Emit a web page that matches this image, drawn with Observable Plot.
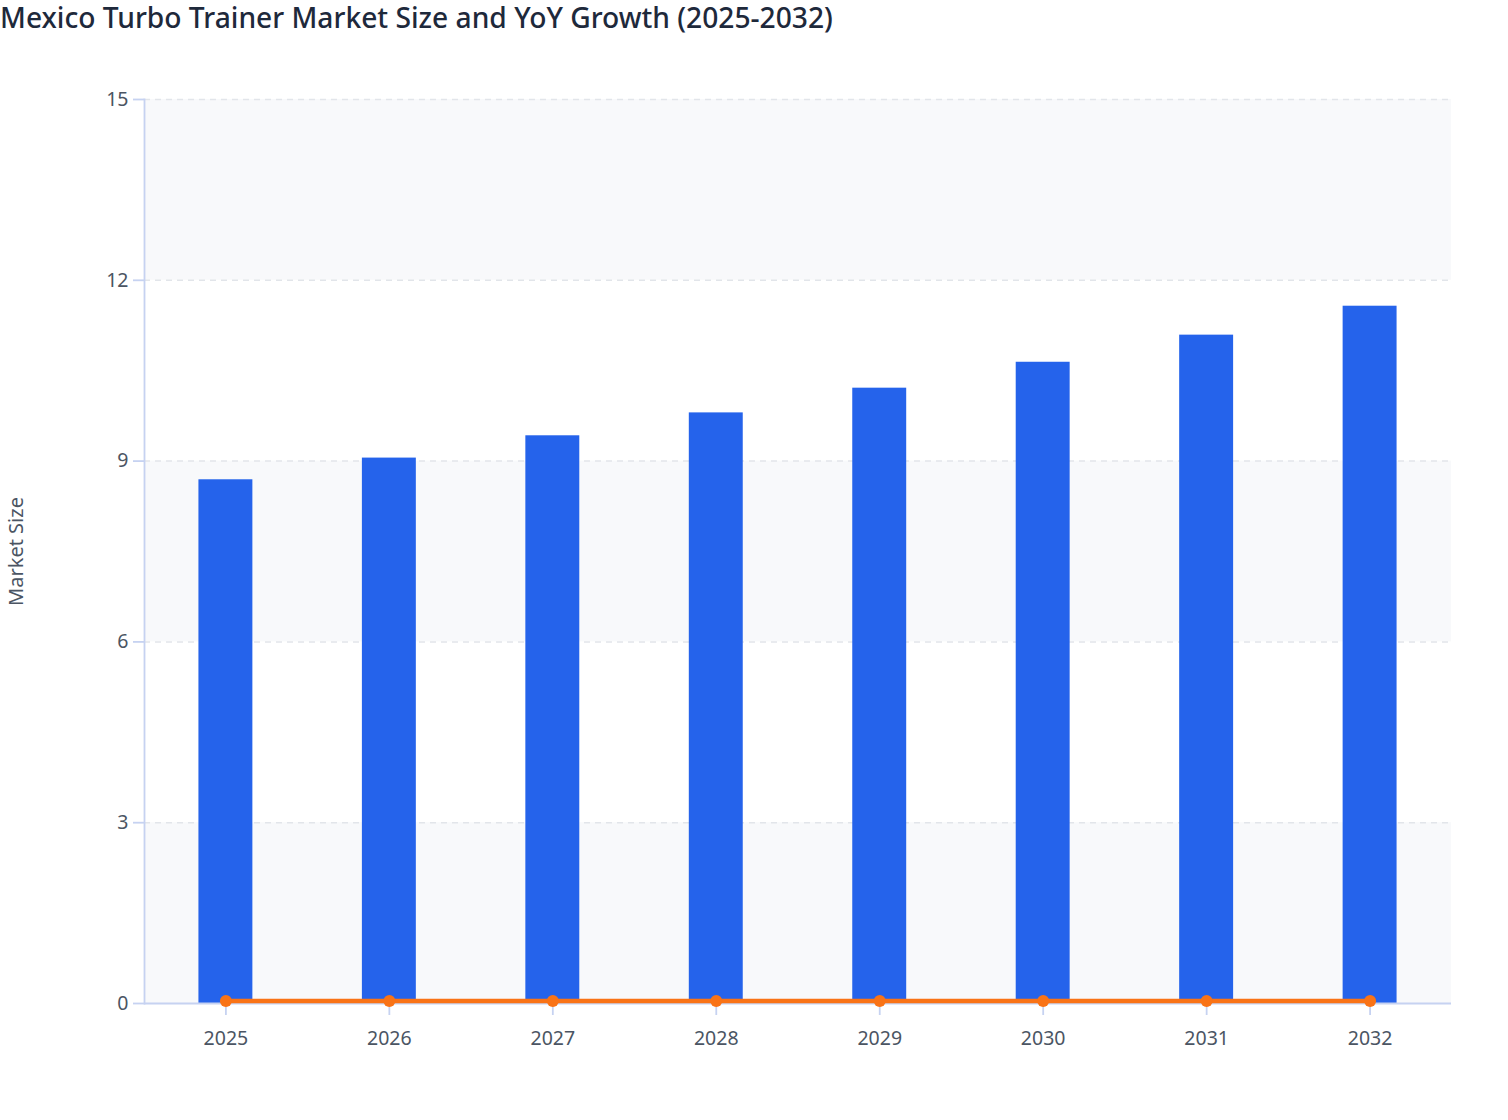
<!DOCTYPE html>
<html>
<head>
<meta charset="utf-8">
<script src="https://cdn.jsdelivr.net/npm/d3@7"></script>
<script src="https://cdn.jsdelivr.net/npm/@observablehq/plot@0.6"></script>
<style>
  html, body { margin: 0; padding: 0; background: #ffffff; }
  body { width: 1508px; height: 1120px; overflow: hidden; font-family: "Noto Sans", "Open Sans", sans-serif; }
  #title { height: 40px; line-height: 35px; font-size: 28.2px; font-weight: 500; color: #1e293b; padding-left: 0; white-space: nowrap; }
</style>
</head>
<body>
<div id="title">Mexico Turbo Trainer Market Size and YoY Growth (2025-2032)</div>
<div id="chart"></div>
<script>
const years = ["2025", "2026", "2027", "2028", "2029", "2030", "2031", "2032"];
const marketSize = [8.69, 9.05, 9.42, 9.80, 10.21, 10.64, 11.09, 11.57];
const yoyGrowth = [0.04, 0.041, 0.041, 0.041, 0.042, 0.042, 0.043, 0.043];
const yTicks = [0, 3, 6, 9, 12, 15];
const bandStarts = [0, 6, 12];
const bandEnds = [3, 9, 15];

const rows = years.map((y, i) => ({year: y, size: marketSize[i], growth: yoyGrowth[i]}));
const bands = bandStarts.map((s, i) => ({y1: s, y2: bandEnds[i]}));

const axisColor = "#c6d2f1";
const textColor = "#4b5563";

const chart = Plot.plot({
  width: 1508,
  height: 1080,
  marginTop: 59,
  marginBottom: 117,
  marginLeft: 144,
  marginRight: 57,
  style: {fontFamily: "'Noto Sans', 'Open Sans', sans-serif", fontSize: "19.5px", color: textColor, background: "#ffffff"},
  x: {type: "band", domain: years, paddingInner: 0.67, paddingOuter: 0.333, round: false, label: null},
  y: {domain: [0, 15], label: null},
  marks: [
    Plot.rect(bands, {y1: "y1", y2: "y2", fill: "#f8f9fb"}),
    Plot.ruleY(yTicks.filter(d => d > 0), {stroke: "#e2e5ea", strokeWidth: 1.5, strokeDasharray: "6,5"}),
    Plot.barY(rows, {x: "year", y: "size", fill: "#2563eb"}),
    Plot.axisY({ticks: yTicks, tickSize: 11, tickPadding: 5, stroke: axisColor, strokeWidth: 1.8, fill: textColor, label: null}),
    Plot.axisX({tickSize: 9, dy: 3, tickPadding: 16, stroke: axisColor, strokeWidth: 1.8, fill: textColor, label: null}),
    Plot.frame({anchor: "left", stroke: axisColor, strokeWidth: 1.8}),
    Plot.ruleY([0], {stroke: axisColor, strokeWidth: 1.8}),
    Plot.lineY(rows, {x: "year", y: "growth", stroke: "#f97316", strokeWidth: 4.5}),
    Plot.dot(rows, {x: "year", y: "growth", fill: "#f97316", r: 6, stroke: "none"}),
    Plot.text(["Market Size"], {frameAnchor: "left", dx: -128, rotate: -90, textAnchor: "middle", text: d => d, fill: textColor, fontSize: 20})
  ]
});
document.getElementById("chart").appendChild(chart);
</script>
</body>
</html>
